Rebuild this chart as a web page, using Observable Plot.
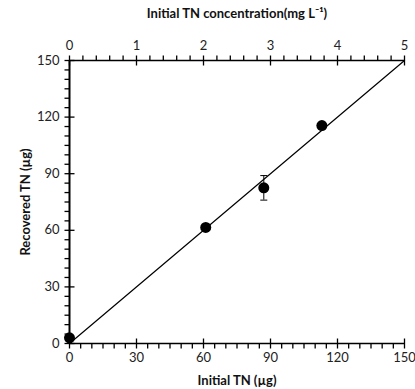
<!DOCTYPE html>
<html><head><meta charset="utf-8">
<script src="https://cdn.jsdelivr.net/npm/d3@7"></script>
<script src="https://cdn.jsdelivr.net/npm/@observablehq/plot@0.6"></script>
<style>
body{margin:0;background:#fff;}
svg{font-family:Lato,"Open Sans",sans-serif;}
</style></head><body>
<div id="chart"></div>
<script>
// Data
const initialTN = [0, 61, 87, 113];
const recoveredTN = [3, 61.5, 82.5, 115.5];
const errLow = [3, 61.5, 76, 115.5];
const errHigh = [3, 61.5, 89, 115.5];
const fitX = [0, 150];
const fitY = [0, 150];
const xTicks = [0, 30, 60, 90, 120, 150];
const yTicks = [0, 30, 60, 90, 120, 150];
const concTicks = [0, 1, 2, 3, 4, 5];
const ugPerMgL = 30;

const pts = initialTN.map((x, i) => ({x, y: recoveredTN[i], lo: errLow[i], hi: errHigh[i]}));
const errPts = pts.filter(d => d.hi - d.lo > 0);
const fit = fitX.map((x, i) => ({x, y: fitY[i]}));
const minorX = d3.range(0, 150.1, 5).filter(v => v % 30 !== 0);
const minorY = d3.range(0, 150.1, 5).filter(v => v % 30 !== 0);
const minorTop = d3.range(0, 26).map(i => i * 0.2 * ugPerMgL).filter((v, i) => i % 5 !== 0);
const topTicks = concTicks.map(c => c * ugPerMgL);

const seg = (x1, y1, x2, y2) => ({draw(ctx) { ctx.moveTo(x1, y1); ctx.lineTo(x2, y2); }});
const capSymbol = seg(-3.5, 0, 3.5, 0);
const tkDown = seg(0, 0, 0, 5), tkUp = seg(0, 0, 0, -5), tkLeft = seg(0, 0, -5, 0);
const majV = seg(0, -5, 0, 5), majH = seg(-5, 0, 5, 0);
const st = {stroke: "#000", strokeWidth: 1.3, fill: "none"};

const chart = Plot.plot({
  width: 415, height: 389,
  marginLeft: 69, marginRight: 11, marginTop: 60, marginBottom: 46,
  style: {fontSize: "13px", color: "#222"},
  x: {domain: [0, 150]},
  y: {domain: [0, 150]},
  marks: [
    // tick labels and titles
    Plot.axisX({ticks: xTicks, tickSize: 0, tickPadding: 9, label: "Initial TN (µg)", labelAnchor: "center", labelArrow: "none", labelOffset: 41, fontSize: 13}),
    Plot.axisY({ticks: yTicks, tickSize: 0, tickPadding: 10, label: "Recovered TN (µg)", labelAnchor: "center", labelArrow: "none", labelOffset: 49, fontSize: 13}),
    Plot.axisX({anchor: "top", ticks: topTicks, tickSize: 0, tickPadding: 11, tickFormat: d => d / ugPerMgL, label: "Initial TN concentration(mg L⁻¹)", labelAnchor: "center", labelArrow: "none", labelOffset: 52, fontSize: 13}),
    // tick marks
    Plot.dot(minorX, {x: d => d, y: () => 0, symbol: tkDown, ...st}),
    Plot.dot(xTicks, {x: d => d, y: () => 0, symbol: majV, ...st}),
    Plot.dot(minorY, {x: () => 0, y: d => d, symbol: tkLeft, ...st}),
    Plot.dot(yTicks, {x: () => 0, y: d => d, symbol: majH, ...st}),
    Plot.dot(minorTop, {x: d => d, y: () => 150, symbol: tkUp, ...st}),
    Plot.dot(topTicks, {x: d => d, y: () => 150, symbol: majV, ...st}),
    // axis lines
    Plot.ruleY([0], {stroke: "#000", strokeWidth: 1.5}),
    Plot.ruleY([150], {stroke: "#000", strokeWidth: 1.5}),
    Plot.ruleX([0], {stroke: "#000", strokeWidth: 2}),
    // fit line
    Plot.line(fit, {x: "x", y: "y", stroke: "#000", strokeWidth: 1.2}),
    // error bars
    Plot.ruleX(errPts, {x: "x", y1: "lo", y2: "hi", stroke: "#000", strokeWidth: 1}),
    Plot.dot(errPts, {x: "x", y: "lo", symbol: capSymbol, stroke: "#000", strokeWidth: 1, fill: "none"}),
    Plot.dot(errPts, {x: "x", y: "hi", symbol: capSymbol, stroke: "#000", strokeWidth: 1, fill: "none"}),
    // points
    Plot.dot(pts, {x: "x", y: "y", r: 5.5, fill: "#000", stroke: "none"})
  ]
});
document.getElementById("chart").append(chart);
chart.querySelectorAll("text").forEach(t => {
  const s = t.textContent;
  if (/Initial|Recovered/.test(s)) { t.setAttribute("font-weight", "bold"); t.setAttribute("font-size", "13px"); t.setAttribute("fill", "#111"); }
});
</script>
</body></html>
